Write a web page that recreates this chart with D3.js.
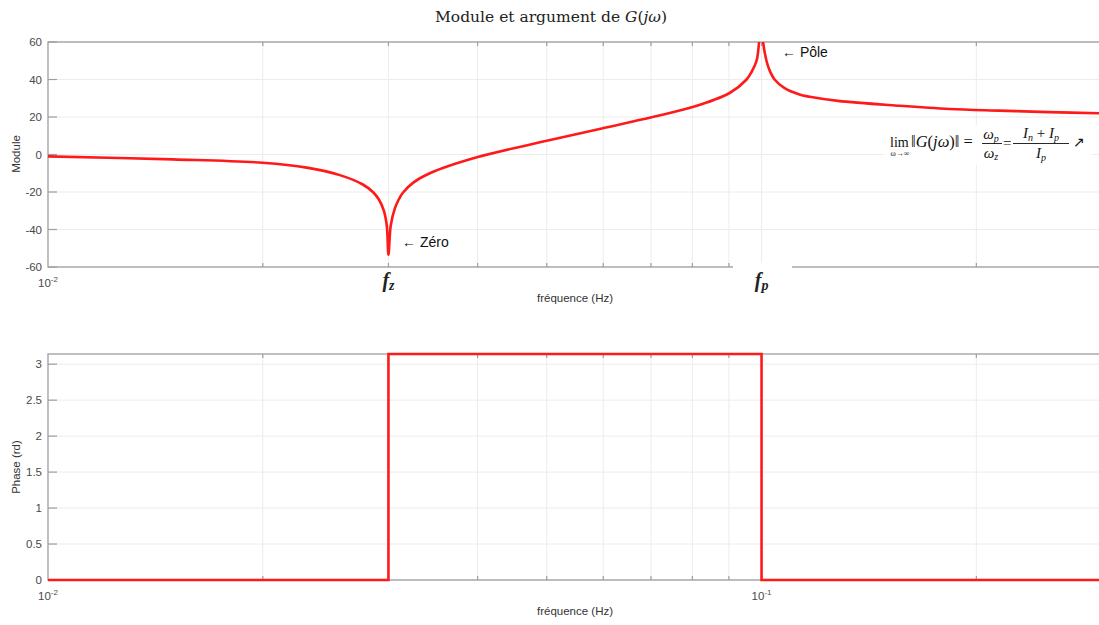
<!DOCTYPE html>
<html><head><meta charset="utf-8">
<script src="https://cdn.jsdelivr.net/npm/d3@7"></script>
<style>body{margin:0;background:#fff}svg{display:block}</style>
</head><body><svg id="c" width="1099" height="625"></svg>
<script>
// ---- data ----
const freqModule = [0.01,0.01496,0.02,0.02305,0.02565,0.02762,0.02853,0.02909,0.02956,0.02984,0.03,0.03022,0.03061,0.03101,0.03141,0.0325,0.03428,0.0399,0.05,0.05988,0.07037,0.08008,0.0902,0.09528,0.09683,0.0984,0.0992,0.1,0.1005,0.1016,0.1026,0.1043,0.1076,0.113,0.1168,0.128,0.1561,0.1834,0.2154,0.253,0.3];
const moduleVals = [-1,-2.6,-4.4,-7,-11,-16,-20,-24,-30,-38,-53.5,-38,-29,-24,-20.5,-15,-10,-1.5,7.3,14,20,25.3,32.8,40,44,50,60,80,60,50,45,40,35.5,32,30.8,28.6,26,24.3,23.4,22.6,22];
const freqPhase = [0.01,0.03,0.03,0.1,0.1,0.3];
const phaseVals = [0,0,Math.PI,Math.PI,0,0];
const moduleTicks = [-60,-40,-20,0,20,40,60];
const phaseTicks = [0,0.5,1,1.5,2,2.5,3];
const minorTicks = [0.02,0.03,0.04,0.05,0.06,0.07,0.08,0.09,0.1,0.2,0.3];

const svg = d3.select("#c");
const X0=48, X1=1102;
const x = d3.scaleLog().domain([0.01,0.3]).range([X0,X1]);
const yTop = d3.scaleLinear().domain([-60,60]).range([267,42]);
const yBot = d3.scaleLinear().domain([0,Math.PI]).range([580,354]);
const axisCol="#9e9e9e", gridCol="#ececec", txtCol="#4a4a4a";
const sans="'Liberation Sans', Arial, sans-serif";
const serif="'Liberation Serif', serif";

function panel(y, ticks, fmt, id){
  const [b,t]=y.range();
  const g=svg.append("g");
  g.selectAll(".vg").data(minorTicks).join("line")
    .attr("x1",d=>x(d)).attr("x2",d=>x(d)).attr("y1",t).attr("y2",b)
    .attr("stroke",gridCol).attr("stroke-width",1);
  g.selectAll(".hg").data(ticks).join("line")
    .attr("x1",X0).attr("x2",X1).attr("y1",d=>y(d)).attr("y2",d=>y(d))
    .attr("stroke",gridCol).attr("stroke-width",1);
  g.append("rect").attr("x",X0).attr("y",t).attr("width",X1-X0).attr("height",b-t)
    .attr("fill","none").attr("stroke",axisCol).attr("stroke-width",1.3);
  g.selectAll(".yt").data(ticks).join("line")
    .attr("x1",X0).attr("x2",X0+9).attr("y1",d=>y(d)).attr("y2",d=>y(d))
    .attr("stroke",axisCol).attr("stroke-width",1.2);
  g.selectAll(".yl").data(ticks).join("text")
    .attr("x",X0-6).attr("y",d=>y(d)+4).attr("text-anchor","end")
    .attr("font-family",sans).attr("font-size",11.5).attr("fill",txtCol).text(fmt);
  g.selectAll(".xtb").data(minorTicks).join("line")
    .attr("x1",d=>x(d)).attr("x2",d=>x(d)).attr("y1",b).attr("y2",b-4)
    .attr("stroke",axisCol).attr("stroke-width",1.2);
  g.selectAll(".xtt").data(minorTicks).join("line")
    .attr("x1",d=>x(d)).attr("x2",d=>x(d)).attr("y1",t).attr("y2",t+4)
    .attr("stroke",axisCol).attr("stroke-width",1.2);
  svg.append("clipPath").attr("id",id).append("rect")
    .attr("x",X0).attr("y",t-2).attr("width",X1-X0).attr("height",b-t+4);
  return g;
}
function decLabel(px,py,exp){
  const tx=svg.append("text").attr("x",px).attr("y",py).attr("text-anchor","middle")
    .attr("font-family",sans).attr("font-size",11.5).attr("fill",txtCol);
  tx.append("tspan").text("10");
  tx.append("tspan").attr("dy",-5).attr("font-size",8).text(exp);
}
function xLabel(py){
  svg.append("text").attr("x",(X0+X1)/2).attr("y",py).attr("text-anchor","middle")
    .attr("font-family",sans).attr("font-size",11.5).attr("fill","#333").text("fréquence (Hz)");
}
function yLabel(px,py,s){
  svg.append("text").attr("transform",`translate(${px},${py}) rotate(-90)`).attr("text-anchor","middle")
    .attr("font-family",sans).attr("font-size",11.5).attr("fill","#333").text(s);
}

// ---- top panel ----
panel(yTop, moduleTicks, d=>d, "clipTop");
svg.append("clipPath").attr("id","clipTopStrict").append("rect")
  .attr("x",X0).attr("y",42).attr("width",X1-X0).attr("height",225);
const lineTop = d3.line().x((d,i)=>x(freqModule[i])).y(d=>yTop(d)).curve(d3.curveCatmullRom.alpha(0.5));
svg.append("path").datum(moduleVals).attr("d",lineTop).attr("fill","none")
  .attr("stroke","#ff1a1a").attr("stroke-width",2.6).attr("stroke-linejoin","round")
  .attr("clip-path","url(#clipTopStrict)");

svg.append("rect").attr("x",733).attr("y",263).attr("width",59).attr("height",32).attr("fill","#fff");
decLabel(X0,287,"-2");
function fLabel(px,sub){
  const t=svg.append("text").attr("x",px).attr("y",287).attr("text-anchor","middle")
    .attr("font-family",serif).attr("font-style","italic").attr("font-weight","bold")
    .attr("font-size",20).attr("fill","#222");
  t.append("tspan").text("f");
  t.append("tspan").attr("dy",3).attr("font-size",14).text(sub);
}
fLabel(x(0.03),"z");
fLabel(x(0.1),"p");
xLabel(302);
yLabel(20,154,"Module");

svg.append("text").attr("x",402).attr("y",247).attr("font-family",sans).attr("font-size",14)
  .attr("fill","#111").text("← Zéro");
svg.append("text").attr("x",782).attr("y",57).attr("font-family",sans).attr("font-size",14)
  .attr("fill","#111").text("← Pôle");

// formula
const fg=svg.append("g").attr("font-family",serif).attr("fill","#111");
fg.append("rect").attr("x",884).attr("y",125).attr("width",208).attr("height",40).attr("fill","#fff").attr("opacity",0.92);
fg.append("text").attr("x",890).attr("y",147).attr("font-size",14).text("lim");
fg.append("text").attr("x",900).attr("y",156).attr("text-anchor","middle").attr("font-size",8).text("ω→∞");
const g1=fg.append("text").attr("x",911).attr("y",147).attr("font-size",16.5);
g1.append("tspan").text("‖");
g1.append("tspan").attr("font-style","italic").text("G");
g1.append("tspan").text("(");
g1.append("tspan").attr("font-style","italic").text("jω");
g1.append("tspan").text(")‖ =");
const fr1=fg.append("text").attr("x",991).attr("y",139).attr("text-anchor","middle").attr("font-size",15).attr("font-style","italic");
fr1.append("tspan").text("ω"); fr1.append("tspan").attr("dy",3).attr("font-size",10).text("p");
const fr2=fg.append("text").attr("x",991).attr("y",158).attr("text-anchor","middle").attr("font-size",15).attr("font-style","italic");
fr2.append("tspan").text("ω"); fr2.append("tspan").attr("dy",2).attr("font-size",10).text("z");
fg.append("line").attr("x1",982).attr("x2",1002).attr("y1",143.5).attr("y2",143.5).attr("stroke","#111").attr("stroke-width",0.9);
fg.append("text").attr("x",1003).attr("y",148).attr("font-size",15).text("=");
const fr3=fg.append("text").attr("x",1041).attr("y",138).attr("text-anchor","middle").attr("font-size",15).attr("font-style","italic");
fr3.append("tspan").text("I"); fr3.append("tspan").attr("dy",3).attr("font-size",10).text("n");
fr3.append("tspan").attr("dy",-3).attr("font-style","normal").text(" + ");
fr3.append("tspan").text("I"); fr3.append("tspan").attr("dy",3).attr("font-size",10).text("p");
const fr4=fg.append("text").attr("x",1041).attr("y",158).attr("text-anchor","middle").attr("font-size",15).attr("font-style","italic");
fr4.append("tspan").text("I"); fr4.append("tspan").attr("dy",3).attr("font-size",10).text("p");
fg.append("line").attr("x1",1013).attr("x2",1069).attr("y1",143.5).attr("y2",143.5).attr("stroke","#111").attr("stroke-width",0.9);
fg.append("text").attr("x",1073).attr("y",147).attr("font-size",14).text("↗");

// ---- bottom panel ----
panel(yBot, phaseTicks, d=>d, "clipBot");
const lineBot = d3.line().x((d,i)=>x(freqPhase[i])).y(d=>yBot(d));
svg.append("path").datum(phaseVals).attr("d",lineBot).attr("fill","none")
  .attr("stroke","#ff1a1a").attr("stroke-width",2.6).attr("clip-path","url(#clipBot)");
decLabel(X0,600,"-2");
decLabel(x(0.1),600,"-1");
xLabel(615);
yLabel(20,467,"Phase (rd)");

// ---- title ----
const tt=svg.append("text").attr("x",551).attr("y",22).attr("text-anchor","middle")
  .attr("font-family","'DejaVu Serif', serif").attr("font-size",15.5).attr("fill","#222");
tt.append("tspan").text("Module et argument de ");
tt.append("tspan").attr("font-style","italic").text("G");
tt.append("tspan").text("(");
tt.append("tspan").attr("font-style","italic").text("jω");
tt.append("tspan").text(")");
</script></body></html>
